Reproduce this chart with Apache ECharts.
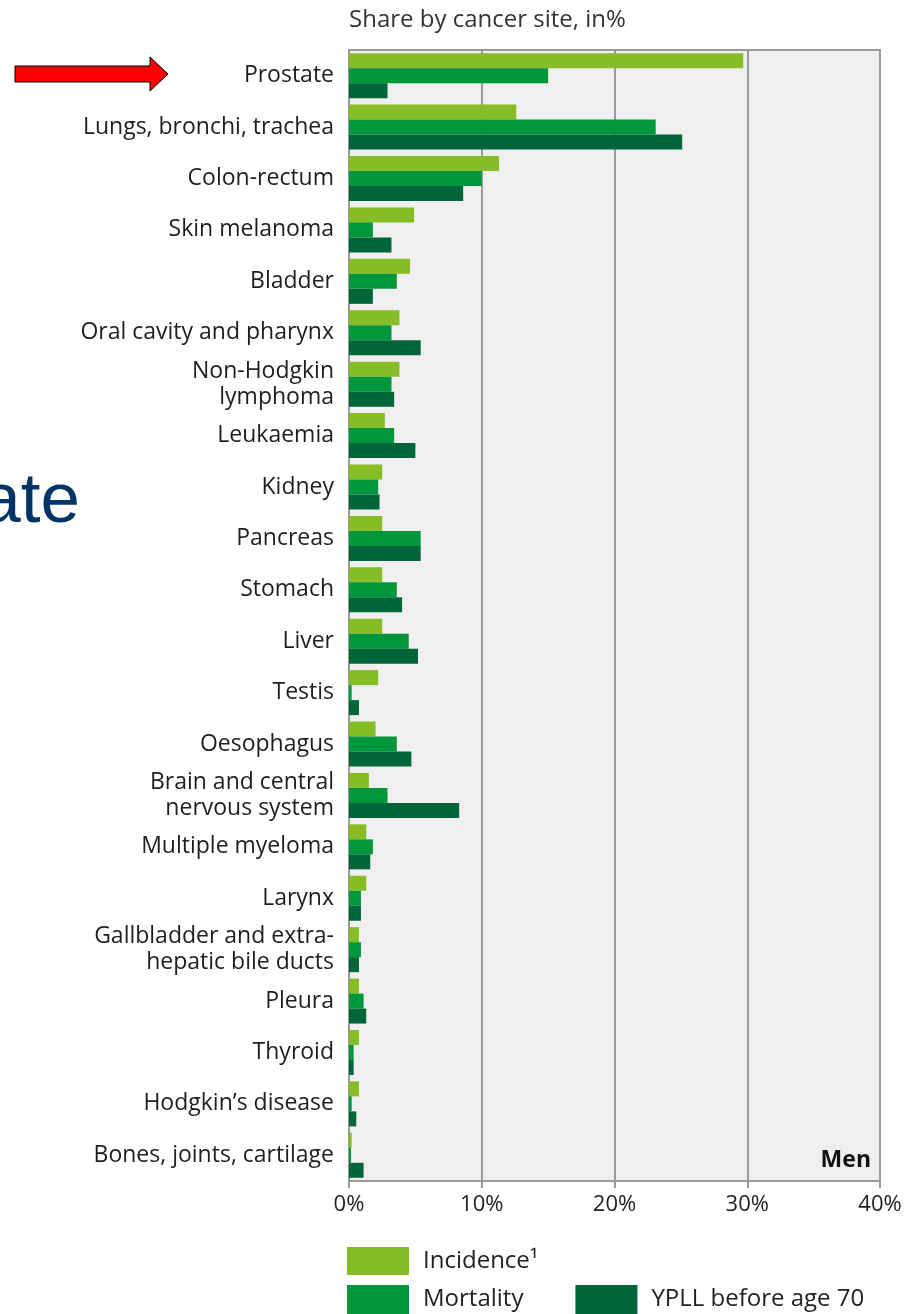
<!DOCTYPE html>
<html>
<head>
<meta charset="utf-8">
<title>Share by cancer site - Men</title>
<script src="https://cdn.jsdelivr.net/npm/echarts@6/dist/echarts.min.js"></script>
<style>
	html, body { margin: 0; padding: 0; background: #ffffff; }
	#main { width: 920px; height: 1314px; }
</style>
</head>
<body>
<div id="main"></div>
<script>
// 数据
var sites = ['Prostate', 'Lungs, bronchi, trachea', 'Colon-rectum', 'Skin melanoma', 'Bladder',
	'Oral cavity and pharynx', 'Non-Hodgkin\nlymphoma', 'Leukaemia', 'Kidney', 'Pancreas',
	'Stomach', 'Liver', 'Testis', 'Oesophagus', 'Brain and central\nnervous system',
	'Multiple myeloma', 'Larynx', 'Gallbladder and extra-\nhepatic bile ducts', 'Pleura',
	'Thyroid', 'Hodgkin\u2019s disease', 'Bones, joints, cartilage'];
var incidence = [29.7, 12.6, 11.3, 4.9, 4.6, 3.8, 3.8, 2.7, 2.5, 2.5, 2.5, 2.5, 2.2, 2.0, 1.5, 1.3, 1.3, 0.75, 0.75, 0.75, 0.75, 0.2];
var mortality = [15.0, 23.1, 10.0, 1.8, 3.6, 3.2, 3.2, 3.4, 2.2, 5.4, 3.6, 4.5, 0.2, 3.6, 2.9, 1.8, 0.9, 0.9, 1.1, 0.35, 0.2, 0.15];
var ypll = [2.9, 25.1, 8.6, 3.2, 1.8, 5.4, 3.4, 5.0, 2.3, 5.4, 4.0, 5.2, 0.75, 4.7, 8.3, 1.6, 0.9, 0.75, 1.3, 0.35, 0.55, 1.1];
var xTicks = [0, 10, 20, 30, 40];
var seriesNames = ['Incidence\u00b9', 'Mortality', 'YPLL before age 70'];

var font = '"Open Sans", "Noto Sans", sans-serif';

var chart = echarts.init(document.getElementById('main'));
var option = {
	backgroundColor : '#ffffff',
	animation : false,
	textStyle : {
		fontFamily : font
	},
	title : {
		text : 'Share by cancer site, in%',
		left : 344,
		top : 3,
		textStyle : {
			fontFamily : font,
			fontSize : 24,
			fontWeight : 'normal',
			color : '#333333'
		}
	},
	legend : [ {
		data : [seriesNames[0]],
		left : 347,
		top : 1247,
		padding : 0,
		orient : 'horizontal',
		itemWidth : 62,
		itemHeight : 28,
		icon : 'rect',
		textStyle : {
			fontFamily : font,
			fontSize : 24,
			color : '#222222',
			padding : [0, 0, 0, 9]
		}
	}, {
		data : [seriesNames[1], seriesNames[2]],
		left : 347,
		top : 1285,
		padding : 0,
		orient : 'horizontal',
		itemWidth : 62,
		itemHeight : 29,
		itemGap : 52,
		icon : 'rect',
		textStyle : {
			fontFamily : font,
			fontSize : 24,
			color : '#222222',
			padding : [0, 0, 0, 9]
		}
	} ],
	grid : {
		left : 349,
		right : 40,
		top : 50,
		height : 1131,
		show : true,
		backgroundColor : '#efefef',
		borderColor : '#9a9a9a',
		borderWidth : 2
	},
	xAxis : {
		type : 'value',
		min : xTicks[0],
		max : xTicks[xTicks.length - 1],
		interval : 10,
		axisLine : { show : true, lineStyle : { color : '#9a9a9a', width : 2 } },
		axisTick : { show : true, length : 7, lineStyle : { color : '#9a9a9a', width : 2 } },
		splitLine : { show : true, lineStyle : { color : '#9a9a9a', width : 2 } },
		axisLabel : {
			formatter : '{value}%',
			fontFamily : font,
			fontSize : 22,
			color : '#222222',
			margin : 13
		}
	},
	yAxis : {
		type : 'category',
		inverse : true,
		data : sites,
		axisLine : { show : false },
		axisTick : { show : false },
		axisLabel : {
			fontFamily : font,
			fontSize : 23,
			lineHeight : 26,
			color : '#1e1e1e',
			align : 'right',
			margin : 15
		}
	},
	series : [ {
		name : seriesNames[0],
		type : 'bar',
		data : incidence,
		barWidth : 15,
		barGap : '0%',
		itemStyle : { color : '#86bc25' }
	}, {
		name : seriesNames[1],
		type : 'bar',
		data : mortality,
		barWidth : 15,
		barGap : '0%',
		itemStyle : { color : '#00963c' }
	}, {
		name : seriesNames[2],
		type : 'bar',
		data : ypll,
		barWidth : 15,
		barGap : '0%',
		itemStyle : { color : '#00663a' }
	} ],
	graphic : [ {
		// 红色箭头
		type : 'polygon',
		shape : {
			points : [[15, 66], [150, 66], [150, 57], [168, 74], [150, 91], [150, 82], [15, 82]]
		},
		style : { fill : '#ff0000', stroke : '#000000', lineWidth : 1 }
	}, {
		type : 'text',
		style : {
			text : 'ate',
			x : 80,
			y : 538,
			textAlign : 'right',
			textVerticalAlign : 'bottom',
			font : '71px "Liberation Sans", Arial, sans-serif',
			fill : '#003366'
		}
	}, {
		type : 'text',
		style : {
			text : 'Men',
			x : 871,
			y : 1172,
			textAlign : 'right',
			textVerticalAlign : 'bottom',
			font : 'bold 23px ' + font,
			fill : '#111111'
		}
	} ]
};
chart.setOption(option);
</script>
</body>
</html>
